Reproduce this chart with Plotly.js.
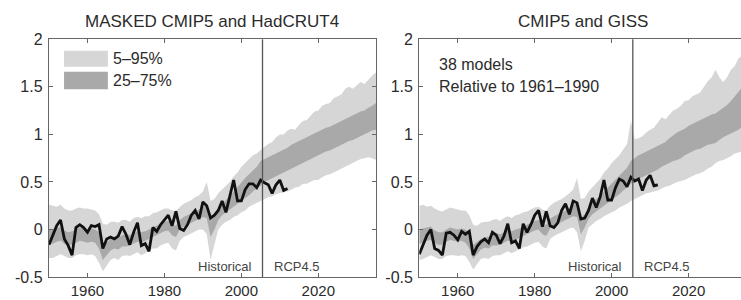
<!DOCTYPE html>
<html>
<head>
<meta charset="utf-8">
<script src="https://cdn.plot.ly/plotly-3.0.1.min.js"></script>
<style>
html,body{margin:0;padding:0;overflow:hidden;background:#fff;width:741px;height:300px;}
#chart{width:760px;height:300px;}
</style>
</head>
<body>
<div id="chart"></div>
<script>
// Years
const yearsModel = [];
for (let y = 1950; y <= 2035; y++) yearsModel.push(y);
const yearsObs = [];
for (let y = 1950; y <= 2012; y++) yearsObs.push(y);

// ---- Left panel: MASKED CMIP5 and HadCRUT4 ----
const hadcrut4 = [-0.16,-0.05,0.04,0.10,-0.10,-0.17,-0.27,0.02,0.05,0.02,
  -0.03,0.04,0.03,0.05,-0.20,-0.10,-0.08,-0.10,-0.07,0.03,
  -0.05,-0.16,-0.03,0.07,-0.17,-0.15,-0.23,0.02,-0.02,0.05,
  0.10,0.15,0.04,0.19,0.01,-0.01,0.05,0.15,0.20,0.11,
  0.29,0.25,0.12,0.15,0.20,0.30,0.18,0.36,0.52,0.30,
  0.30,0.42,0.48,0.48,0.44,0.52,0.49,0.47,0.38,0.47,
  0.52,0.41,0.43];

const maskedP95 = [0.26,0.25,0.24,0.26,0.22,0.20,0.20,0.22,0.23,0.22,
  0.22,0.21,0.20,0.16,0.06,0.05,0.08,0.08,0.07,0.10,
  0.10,0.08,0.12,0.13,0.12,0.14,0.14,0.17,0.18,0.20,
  0.22,0.22,0.20,0.20,0.24,0.27,0.29,0.31,0.34,0.36,
  0.40,0.50,0.30,0.32,0.38,0.42,0.45,0.50,0.56,0.60,
  0.66,0.70,0.74,0.78,0.80,0.84,0.87,0.90,0.92,0.97,
  1.00,1.00,1.04,1.06,1.05,1.10,1.14,1.15,1.20,1.24,
  1.25,1.30,1.32,1.33,1.38,1.40,1.42,1.48,1.50,1.48,
  1.52,1.55,1.53,1.58,1.62,1.65];
const maskedP5 = [-0.30,-0.30,-0.28,-0.26,-0.28,-0.30,-0.30,-0.27,-0.26,-0.26,
  -0.27,-0.26,-0.28,-0.35,-0.44,-0.38,-0.32,-0.30,-0.32,-0.28,
  -0.27,-0.28,-0.26,-0.24,-0.27,-0.25,-0.22,-0.20,-0.20,-0.17,
  -0.15,-0.14,-0.20,-0.22,-0.12,-0.08,-0.06,-0.04,-0.02,0.00,
  0.00,-0.05,-0.32,-0.15,0.00,0.05,0.08,0.10,0.13,0.15,
  0.18,0.20,0.24,0.26,0.28,0.30,0.32,0.34,0.35,0.37,
  0.38,0.40,0.40,0.42,0.44,0.45,0.48,0.48,0.50,0.52,
  0.52,0.55,0.57,0.58,0.60,0.62,0.64,0.66,0.68,0.70,
  0.72,0.74,0.75,0.76,0.75,0.73];
const maskedP75 = [0.00,0.00,0.02,0.02,-0.01,-0.03,-0.02,0.00,0.02,0.01,
  0.00,0.01,0.00,-0.03,-0.16,-0.14,-0.10,-0.08,-0.09,-0.06,
  -0.05,-0.06,-0.04,-0.02,-0.03,-0.02,0.00,0.02,0.04,0.06,
  0.08,0.09,0.05,0.04,0.10,0.13,0.15,0.17,0.19,0.21,
  0.24,0.26,0.10,0.14,0.22,0.27,0.31,0.35,0.40,0.45,
  0.50,0.54,0.58,0.62,0.66,0.72,0.74,0.76,0.78,0.80,
  0.82,0.84,0.86,0.89,0.91,0.93,0.95,0.97,0.99,1.01,
  1.03,1.05,1.07,1.08,1.10,1.12,1.14,1.16,1.18,1.20,
  1.22,1.24,1.25,1.28,1.30,1.33];
const maskedP25 = [-0.15,-0.15,-0.13,-0.12,-0.15,-0.16,-0.16,-0.14,-0.12,-0.13,
  -0.14,-0.13,-0.14,-0.20,-0.32,-0.27,-0.22,-0.20,-0.21,-0.18,
  -0.18,-0.17,-0.15,-0.13,-0.14,-0.12,-0.10,-0.08,-0.06,-0.04,
  -0.02,-0.01,-0.06,-0.08,0.00,0.03,0.05,0.07,0.09,0.11,
  0.13,0.12,-0.08,0.00,0.10,0.15,0.18,0.21,0.24,0.27,
  0.30,0.33,0.36,0.40,0.43,0.46,0.50,0.52,0.54,0.56,
  0.58,0.60,0.62,0.64,0.66,0.68,0.70,0.72,0.74,0.76,
  0.78,0.80,0.82,0.83,0.85,0.87,0.89,0.91,0.93,0.94,
  0.96,0.98,1.00,1.02,1.04,1.05];

// ---- Right panel: CMIP5 and GISS ----
const giss = [-0.26,-0.15,-0.06,0.00,-0.20,-0.22,-0.27,-0.04,-0.03,-0.06,
  -0.11,-0.02,-0.05,-0.02,-0.27,-0.18,-0.13,-0.10,-0.14,-0.03,
  -0.06,-0.15,-0.07,0.06,-0.14,-0.12,-0.20,0.06,-0.03,0.05,
  0.15,0.20,0.03,0.19,0.04,0.02,0.07,0.20,0.27,0.16,
  0.30,0.28,0.11,0.12,0.20,0.33,0.23,0.34,0.52,0.31,
  0.31,0.44,0.53,0.51,0.45,0.55,0.51,0.53,0.41,0.52,
  0.57,0.46,0.47];

const cmipP95 = [0.25,0.26,0.24,0.25,0.22,0.20,0.19,0.21,0.23,0.22,
  0.21,0.20,0.20,0.15,0.05,0.04,0.07,0.08,0.08,0.10,
  0.11,0.09,0.12,0.14,0.12,0.15,0.16,0.18,0.19,0.21,
  0.23,0.24,0.21,0.20,0.25,0.28,0.30,0.32,0.35,0.38,
  0.42,0.54,0.32,0.33,0.40,0.44,0.48,0.53,0.60,0.64,
  0.70,0.74,0.78,0.84,0.90,1.14,0.95,0.96,0.98,1.02,
  1.05,1.07,1.12,1.18,1.16,1.20,1.25,1.27,1.30,1.35,
  1.36,1.40,1.42,1.44,1.50,1.56,1.60,1.68,1.60,1.55,
  1.60,1.68,1.72,1.80,1.83,1.85];
const cmipP5 = [-0.32,-0.31,-0.29,-0.27,-0.29,-0.31,-0.31,-0.28,-0.27,-0.27,
  -0.28,-0.27,-0.28,-0.34,-0.42,-0.37,-0.31,-0.30,-0.31,-0.28,
  -0.27,-0.27,-0.25,-0.23,-0.25,-0.23,-0.21,-0.19,-0.18,-0.16,
  -0.14,-0.13,-0.18,-0.20,-0.10,-0.07,-0.05,-0.03,-0.01,0.01,
  0.02,-0.03,-0.23,-0.12,0.02,0.06,0.09,0.11,0.14,0.16,
  0.18,0.20,0.23,0.25,0.27,0.30,0.32,0.34,0.36,0.38,
  0.39,0.40,0.41,0.43,0.45,0.46,0.48,0.50,0.51,0.52,
  0.54,0.56,0.58,0.59,0.61,0.64,0.66,0.70,0.72,0.73,
  0.75,0.77,0.80,0.81,0.82,0.83];
const cmipP75 = [0.00,0.01,0.02,0.03,-0.01,-0.03,-0.03,0.00,0.02,0.01,
  0.00,0.01,0.00,-0.04,-0.16,-0.13,-0.10,-0.08,-0.08,-0.05,
  -0.04,-0.05,-0.03,-0.01,-0.02,0.00,0.01,0.03,0.05,0.07,
  0.09,0.10,0.06,0.05,0.11,0.14,0.16,0.18,0.20,0.22,
  0.26,0.28,0.12,0.16,0.24,0.29,0.32,0.35,0.40,0.44,
  0.48,0.52,0.56,0.60,0.65,0.72,0.75,0.78,0.80,0.82,
  0.84,0.86,0.88,0.90,0.92,0.96,0.99,1.02,1.04,1.06,
  1.09,1.11,1.13,1.15,1.17,1.19,1.21,1.22,1.25,1.28,
  1.31,1.35,1.40,1.45,1.50,1.53];
const cmipP25 = [-0.15,-0.14,-0.12,-0.11,-0.14,-0.16,-0.16,-0.13,-0.11,-0.12,
  -0.13,-0.12,-0.14,-0.20,-0.31,-0.26,-0.21,-0.19,-0.20,-0.17,
  -0.17,-0.16,-0.14,-0.12,-0.13,-0.11,-0.09,-0.07,-0.05,-0.03,
  -0.01,0.00,-0.05,-0.07,0.01,0.04,0.06,0.08,0.10,0.12,
  0.14,0.13,-0.05,0.02,0.11,0.16,0.19,0.22,0.25,0.28,
  0.31,0.34,0.37,0.41,0.44,0.48,0.51,0.53,0.55,0.57,
  0.59,0.61,0.63,0.66,0.68,0.70,0.72,0.73,0.75,0.78,
  0.80,0.82,0.84,0.85,0.87,0.89,0.90,0.91,0.94,0.97,
  0.99,1.01,1.03,1.05,1.08,1.10];

const xTicks = [1960, 1980, 2000, 2020];
const yTicks = [-0.5, 0, 0.5, 1, 1.5, 2];
const yTickText = ['-0.5', '0', '0.5', '1', '1.5', '2'];
const panelTitles = ['MASKED CMIP5 and HadCRUT4', 'CMIP5 and GISS'];
const legendLabels = ['5\u201395%', '25\u201375%'];
const periodLabels = ['Historical', 'RCP4.5'];
const noteLines = ['38 models', 'Relative to 1961\u20131990'];
const scenarioStart = 2005.5;

const LIGHT = '#d6d6d6';
const DARK = '#a9a9a9';
const FONT = 'Liberation Sans, Arial, Helvetica, sans-serif';
const TXT = '#2b2b2b';

function bandTraces(p5, p95, p25, p75, obsY, xa, ya) {
  return [
    {x: yearsModel, y: p5, xaxis: xa, yaxis: ya, mode: 'lines', line: {width: 0, color: LIGHT}, hoverinfo: 'skip', showlegend: false},
    {x: yearsModel, y: p95, xaxis: xa, yaxis: ya, mode: 'lines', line: {width: 0, color: LIGHT}, fill: 'tonexty', fillcolor: LIGHT, hoverinfo: 'skip', showlegend: false},
    {x: yearsModel, y: p25, xaxis: xa, yaxis: ya, mode: 'lines', line: {width: 0, color: DARK}, hoverinfo: 'skip', showlegend: false},
    {x: yearsModel, y: p75, xaxis: xa, yaxis: ya, mode: 'lines', line: {width: 0, color: DARK}, fill: 'tonexty', fillcolor: DARK, hoverinfo: 'skip', showlegend: false},
    {x: yearsObs, y: obsY, xaxis: xa, yaxis: ya, mode: 'lines', line: {width: 2.8, color: '#111111'}, showlegend: false}
  ];
}

const data = [].concat(
  bandTraces(maskedP5, maskedP95, maskedP25, maskedP75, hadcrut4, 'x', 'y'),
  bandTraces(cmipP5, cmipP95, cmipP25, cmipP75, giss, 'x2', 'y2')
);

const W = 760, H = 300;
const yDom = [(H - 277) / H, (H - 39.3) / H];

function xAxis(domain) {
  return {
    domain: domain, range: [1950, 2035], tickvals: xTicks, ticktext: xTicks.map(String),
    ticks: 'inside', ticklen: 4, tickwidth: 1, tickcolor: '#666',
    showline: true, linecolor: '#666', linewidth: 1.2, mirror: 'ticks',
    showgrid: false, zeroline: false, fixedrange: true,
    tickfont: {family: FONT, size: 15, color: TXT}, ticklabelstandoff: 0
  };
}
function yAxis(anchor) {
  return {
    domain: yDom, range: [-0.5, 2], tickvals: yTicks, ticktext: yTickText, anchor: anchor,
    ticks: 'inside', ticklen: 4, tickwidth: 1, tickcolor: '#666',
    showline: true, linecolor: '#666', linewidth: 1.2, mirror: 'ticks',
    showgrid: false, zeroline: false, fixedrange: true,
    tickfont: {family: FONT, size: 16, color: TXT}, ticklabelstandoff: 2
  };
}

const annotations = [];
const shapes = [];
[['x', 'y'], ['x2', 'y2']].forEach(function (ax, i) {
  annotations.push({text: panelTitles[i], xref: ax[0] + ' domain', yref: 'paper', x: 0.5, y: 1 - 21 / H,
    xanchor: 'center', yanchor: 'middle', showarrow: false, font: {family: FONT, size: 17, color: TXT}});
  annotations.push({text: periodLabels[0], xref: ax[0], yref: ax[1] + ' domain', x: scenarioStart, y: 0.046,
    xanchor: 'right', yanchor: 'middle', xshift: -9, showarrow: false, font: {family: FONT, size: 13, color: '#444'}});
  annotations.push({text: periodLabels[1], xref: ax[0], yref: ax[1] + ' domain', x: scenarioStart, y: 0.046,
    xanchor: 'left', yanchor: 'middle', xshift: 9, showarrow: false, font: {family: FONT, size: 13, color: '#444'}});
  shapes.push({type: 'line', xref: ax[0], yref: ax[1] + ' domain', x0: scenarioStart, x1: scenarioStart, y0: 0, y1: 1,
    line: {color: '#555', width: 1.3}});
});

// legend (left panel)
shapes.push({type: 'rect', xref: 'x domain', yref: 'y domain', x0: 0.046, x1: 0.18, y0: 0.885, y1: 0.952,
  fillcolor: LIGHT, line: {width: 0}});
shapes.push({type: 'rect', xref: 'x domain', yref: 'y domain', x0: 0.046, x1: 0.18, y0: 0.79, y1: 0.864,
  fillcolor: DARK, line: {width: 0}});
annotations.push({text: legendLabels[0], xref: 'x domain', yref: 'y domain', x: 0.19, y: 0.918,
  xanchor: 'left', yanchor: 'middle', showarrow: false, font: {family: FONT, size: 16, color: TXT}});
annotations.push({text: legendLabels[1], xref: 'x domain', yref: 'y domain', x: 0.19, y: 0.827,
  xanchor: 'left', yanchor: 'middle', showarrow: false, font: {family: FONT, size: 16, color: TXT}});

// note (right panel)
annotations.push({text: noteLines[0], xref: 'x2 domain', yref: 'y2 domain', x: 0.055, y: 0.892,
  xanchor: 'left', yanchor: 'middle', showarrow: false, font: {family: FONT, size: 16, color: TXT}});
annotations.push({text: noteLines[1], xref: 'x2 domain', yref: 'y2 domain', x: 0.055, y: 0.8,
  xanchor: 'left', yanchor: 'middle', showarrow: false, font: {family: FONT, size: 16, color: TXT}});

const layout = {
  width: W, height: H,
  margin: {l: 0, r: 0, t: 0, b: 0},
  paper_bgcolor: '#fff', plot_bgcolor: '#fff',
  showlegend: false,
  xaxis: xAxis([49 / W, 376 / W]),
  yaxis: yAxis('x'),
  xaxis2: xAxis([419.3 / W, 746.3 / W]),
  yaxis2: yAxis('x2'),
  annotations: annotations,
  shapes: shapes
};
layout.xaxis.anchor = 'y';
layout.xaxis2.anchor = 'y2';

Plotly.newPlot('chart', data, layout, {displayModeBar: false, staticPlot: true});
</script>
</body>
</html>
